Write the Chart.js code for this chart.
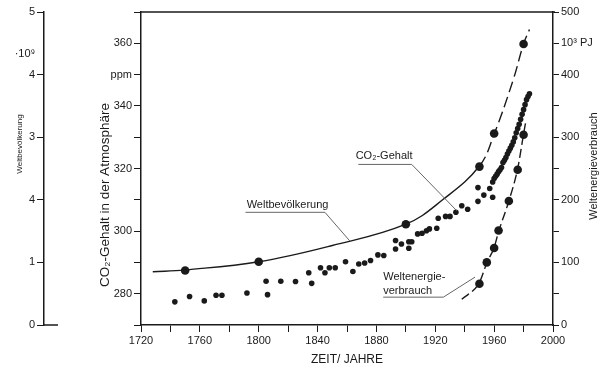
<!DOCTYPE html>
<html>
<head>
<meta charset="utf-8">
<script src="https://cdn.jsdelivr.net/npm/chart.js@4.4.0/dist/chart.umd.min.js"></script>
<style>html,body{margin:0;padding:0;background:#fff}canvas{display:block}</style>
</head>
<body>
<canvas id="c" width="604" height="368"></canvas>
<script>
// CO2 content (ppm), ice cores / early measurements
const co2Years = [1743,1753,1763,1771,1775,1792,1805,1806,1815,1825,1834,1836,1842,1845,1848,1852,1859,1864,1868,1872,1876,1881,1885,1893,1893,1897,1902,1902,1904,1908,1911,1914,1916,1921,1922,1927,1930,1934,1938,1942,1949,1949,1953,1957,1959];
const co2Ppm   = [277.4,279.1,277.7,279.5,279.5,280.2,284.0,279.7,284.0,283.9,286.7,283.3,288.3,286.7,288.3,288.3,290.2,287.1,289.5,289.8,290.6,292.4,292.2,294.3,297.0,295.9,294.5,296.6,296.6,299.1,299.3,300.1,300.7,300.9,304.1,304.7,304.7,306.0,308.1,307.0,309.5,313.9,311.5,313.6,310.8];
// CO2 direct measurements
const loaYears = [1959,1960,1961,1962,1963,1964,1965,1966,1967,1968,1969,1970,1971,1972,1973,1974,1975,1976,1977,1978,1979,1980,1981,1982,1983,1984];
const loaPpm   = [315.7,316.8,317.5,318.2,319.0,319.6,320.3,321.9,322.6,323.5,324.6,325.6,326.5,327.4,328.5,329.8,331.4,332.8,334.1,335.7,337.3,338.8,340.4,342.0,343.0,343.9];
// world population (10^9)
const popYears = [1750,1800,1900,1950,1960,1980];
const popBn    = [0.87,1.01,1.61,2.53,3.06,4.49];
const popCurveYears = [1728,1750,1800,1850,1900,1925,1950,1960,1973,1980,1984];
const popCurveBn    = [0.85,0.88,1.01,1.27,1.61,2.0,2.54,3.05,3.92,4.49,4.72];
// world energy consumption (10^3 PJ)
const enYears = [1950,1955,1960,1963,1970,1976,1980];
const enPJ    = [66,100,123,151,198,248,304];
const enCurveYears = [1938,1950,1955,1960,1963,1970,1976,1980,1981.5];
const enCurvePJ    = [41,68,99,124,149,198,250,305,325];
// left axis tick labels as printed
const popTickLabels = ['0','1','4','3','4','5'];

const INK = '#1a1a1a';
const FONT = "'Liberation Sans', Arial, sans-serif";
const NARROW = "'Liberation Sans Narrow', 'Liberation Sans', Arial, sans-serif";

const pts = (xs, ys) => xs.map((x, i) => ({x, y: ys[i]}));

const annotate = {
  id: 'annotate',
  afterDraw(chart) {
    const {ctx, chartArea: a, scales: {x, yCO2, yPop}} = chart;
    const px = v => x.getPixelForValue(v), py = v => yCO2.getPixelForValue(v);
    ctx.save();
    ctx.strokeStyle = INK; ctx.lineWidth = 1.5;
    ctx.beginPath(); ctx.moveTo(a.left, a.top); ctx.lineTo(a.right + 2, a.top); ctx.stroke();
    const z = yPop.getPixelForValue(0);
    ctx.beginPath(); ctx.moveTo(yPop.right, z); ctx.lineTo(yPop.right + 14, z); ctx.stroke();

    ctx.fillStyle = INK;
    ctx.font = '11px ' + FONT;
    ctx.textBaseline = 'middle';
    ctx.textAlign = 'center';
    ctx.fillText('·10⁹', 25, 54);

    // leader lines
    ctx.strokeStyle = '#666'; ctx.lineWidth = 1;
    const leader = (x0, x1, yl, x2, y2) => {
      ctx.beginPath(); ctx.moveTo(px(x0), py(yl)); ctx.lineTo(px(x1), py(yl)); ctx.lineTo(px(x2), py(y2)); ctx.stroke();
    };
    ctx.fillText('Weltbevölkerung', px(1819.6), py(308.3));
    leader(1791, 1845, 306, 1862, 296.8);
    ctx.fillText('CO₂-Gehalt', px(1885.2), py(323.9));
    leader(1867.7, 1904, 321.3, 1934.6, 306.5);
    ctx.textAlign = 'left';
    ctx.fillText('Weltenergie-', px(1884.6), py(285.2));
    ctx.fillText('verbrauch', px(1884.6), py(280.9));
    leader(1884.6, 1925.5, 278.9, 1947, 285.3);

    // rotated axis titles
    ctx.textAlign = 'center';
    const vtext = (t, cx, cy, font) => {
      ctx.save();
      ctx.font = font;
      ctx.translate(cx, cy); ctx.rotate(-Math.PI / 2);
      ctx.fillText(t, 0, 0);
      ctx.restore();
    };
    vtext('Weltenergieverbrauch', 594, 166, '11px ' + FONT);
    vtext('CO₂-Gehalt in der Atmosphäre', 105, 195, '13.5px ' + FONT);
    vtext('Weltbevölkerung', 20, 144, '8px ' + FONT);
    ctx.restore();
  }
};

const tickFont = {family: FONT, size: 11};

new Chart(document.getElementById('c'), {
  type: 'scatter',
  data: {
    datasets: [
      {data: pts(co2Years, co2Ppm), yAxisID: 'yCO2', pointRadius: 2.8, backgroundColor: INK, borderWidth: 0},
      {data: pts(loaYears, loaPpm), yAxisID: 'yCO2', pointRadius: 2.8, backgroundColor: INK, borderWidth: 0},
      {data: pts(popCurveYears, popCurveBn), yAxisID: 'yPop', showLine: true, pointRadius: 0, borderColor: INK, borderWidth: 1.4,
       tension: 0.4,
       segment: {borderDash: c => c.p0.parsed.x >= 1950 ? [11, 5] : undefined}},
      {data: pts(popYears, popBn), yAxisID: 'yPop', pointRadius: 4.3, backgroundColor: INK, borderWidth: 0},
      {data: pts(enCurveYears, enCurvePJ), yAxisID: 'yE', showLine: true, pointRadius: 0, borderColor: INK, borderWidth: 1.4,
       cubicInterpolationMode: 'monotone', borderDash: [9, 4]},
      {data: pts(enYears, enPJ), yAxisID: 'yE', pointRadius: 4.3, backgroundColor: INK, borderWidth: 0}
    ]
  },
  options: {
    responsive: false, animation: false, devicePixelRatio: 1,
    layout: {padding: {top: 12, left: 0, right: 0, bottom: 0}},
    plugins: {legend: {display: false}, tooltip: {enabled: false}},
    scales: {
      x: {
        type: 'linear', position: 'bottom', min: 1720, max: 2000,
        ticks: {stepSize: 20, autoSkip: false, maxRotation: 0, color: INK, font: tickFont, padding: 2,
                callback: v => v % 40 === 0 ? String(v) : ''},
        grid: {drawOnChartArea: false, color: INK, tickLength: 7},
        border: {color: INK, width: 1.5},
        title: {display: true, text: 'ZEIT/ JAHRE', color: INK, font: {family: NARROW, size: 12}, padding: {top: 0, bottom: 1}},
        afterFit: s => { s.height = 43; }
      },
      yCO2: {
        position: 'left', weight: 0, min: 270, max: 370,
        ticks: {stepSize: 10, autoSkip: false, color: INK, font: tickFont, padding: 2,
                callback: v => v === 350 ? 'ppm' : (v % 20 === 0 && v > 270 && v < 370 ? String(v) : '')},
        grid: {drawOnChartArea: false, color: INK, tickLength: 7},
        border: {color: INK, width: 1.5},
        afterFit: s => { s.width = 97; }
      },
      yPop: {
        position: 'left', weight: 1, min: 0, max: 5,
        ticks: {stepSize: 1, autoSkip: false, color: INK, font: tickFont, padding: 2,
                callback: v => popTickLabels[v]},
        grid: {drawOnChartArea: false, color: INK, tickLength: 7},
        border: {color: INK, width: 1.5},
        afterFit: s => { s.width = 44; }
      },
      yE: {
        position: 'right', min: 0, max: 500,
        ticks: {stepSize: 50, autoSkip: false, color: INK, font: tickFont, padding: 2,
                callback: v => v === 450 ? '10³ PJ' : (v % 100 === 0 ? String(v) : '')},
        grid: {drawOnChartArea: false, color: INK, tickLength: 6},
        border: {color: INK, width: 1.5},
        afterFit: s => { s.width = 51; }
      }
    }
  },
  plugins: [annotate]
});
</script>
</body>
</html>
